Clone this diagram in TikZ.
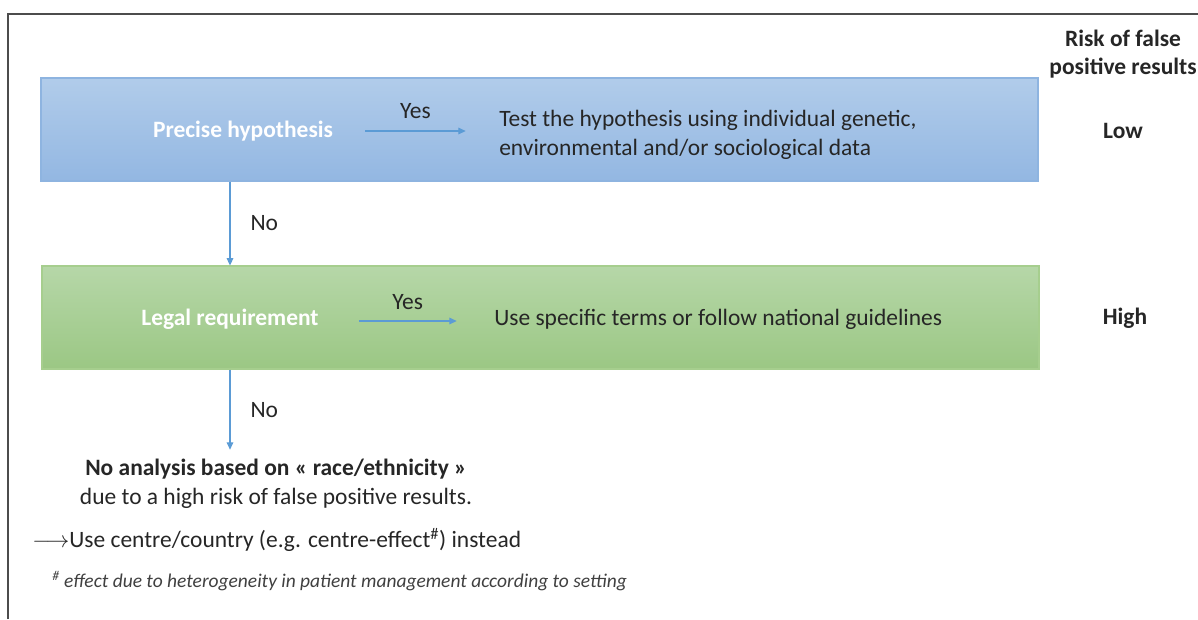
\documentclass[tikz,border=0pt]{standalone}
\usepackage{fontspec}
\setmainfont{Carlito}
\usetikzlibrary{arrows.meta}
\definecolor{flowblue}{HTML}{5B9BD5}
\definecolor{hyptop}{HTML}{B1CCEA}
\definecolor{hypbot}{HTML}{93B7E2}
\definecolor{hypline}{HTML}{8EB4E0}
\definecolor{legtop}{HTML}{B6D7A8}
\definecolor{legbot}{HTML}{9BC784}
\definecolor{legline}{HTML}{A6CE8E}
\definecolor{ink}{HTML}{262626}
\begin{document}
\begin{tikzpicture}[x=0.75pt,y=-0.75pt,
    every node/.style={inner sep=0pt, text=ink, font=\fontsize{17.6}{21.75}\selectfont},
    box/.style={draw, line width=0.8pt, minimum width=747.75pt, minimum height=77.25pt},
    boxtitle/.style={text=white, font=\fontsize{17.6}{21.75}\selectfont\bfseries},
    flow/.style={draw=flowblue, line width=0.8pt, -{Triangle[length=5.5pt,width=5pt]}}]
    \useasboundingbox (0,0) rectangle (1198,619);
    % frame
    \draw[black!70, line width=1.5pt] (8,619) -- (8,14) -- (1198,14);
    % boxes
    \node[box, draw=hypline, top color=hyptop, bottom color=hypbot] (hypbox) at (539.5,129.5) {};
    \node[box, draw=legline, top color=legtop, bottom color=legbot] (legbox) at (540.5,317.5) {};
    \node[boxtitle] (hyp) at (243,131) {Precise hypothesis};
    \node[boxtitle] (legal) at (230,319) {Legal requirement};
    \node[anchor=west, align=left] (test) at (499,135) {Test the hypothesis using individual genetic,\\environmental and/or sociological data};
    \node[anchor=west] (terms) at (494,319) {Use specific terms or follow national guidelines};
    % risk column
    \node[align=center, font=\fontsize{17.6}{21}\selectfont\bfseries] (risk) at (1123,54) {Risk of false\\positive results};
    \node[font=\fontsize{17.6}{21}\selectfont\bfseries] (low) at (1123,131) {Low};
    \node[font=\fontsize{17.6}{21}\selectfont\bfseries] (high) at (1125,318) {High};
    % conclusion
    \node[align=center] (none) at (276,484) {\textbf{No analysis based on « race/ethnicity »}\\due to a high risk of false positive results.};
    \node[anchor=west] (use) at (32,540) {$\longrightarrow$Use centre/country (e.g. centre-effect\textsuperscript{\#}) instead};
    \node[anchor=west, text=black!75, font=\fontsize{14.6}{17}\selectfont\itshape] (note) at (52,581) {\textsuperscript{\#} effect due to heterogeneity in patient management according to setting};
    % connectors
    \draw[flow] (hyp.east) ++(24pt,0) coordinate (y1s) -- ([xshift=-25pt]test.west |- y1s) node[midway, above=9pt] {Yes};
    \draw[flow] (legal.east) ++(30pt,-1.5pt) coordinate (y2s) -- ([xshift=-28pt]terms.west |- y2s) node[midway, above=8pt] {Yes};
    \draw[flow] (hypbox.south -| legal) -- (legbox.north -| legal) node[midway, right=15pt] {No};
    \draw[flow] (legbox.south -| legal) -- ([yshift=7pt]none.north -| legal) node[midway, right=15pt] {No};
\end{tikzpicture}
\end{document}
